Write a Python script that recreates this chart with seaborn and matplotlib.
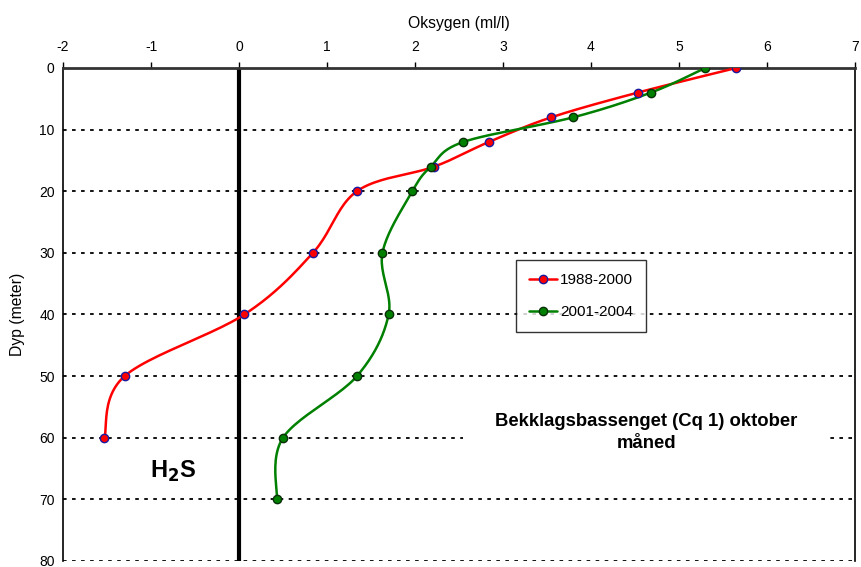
import numpy as np
import seaborn as sns
import matplotlib.pyplot as plt
from matplotlib.lines import Line2D
from matplotlib.patches import Rectangle

# Oxygen profiles, Bekklagsbassenget (Cq 1), October
depth_a = [0, 4, 8, 12, 16, 20, 30, 40, 50, 60]
oxy_a = [5.65, 4.53, 3.55, 2.84, 2.22, 1.34, 0.84, 0.06, -1.30, -1.53]

depth_b = [0, 4, 8, 12, 16, 20, 30, 40, 50, 60, 70]
oxy_b = [5.30, 4.68, 3.80, 2.55, 2.18, 1.97, 1.63, 1.70, 1.34, 0.50, 0.43]

x_ticks = [-2, -1, 0, 1, 2, 3, 4, 5, 6, 7]
y_ticks = [0, 10, 20, 30, 40, 50, 60, 70, 80]


def smooth(xs, ys, n=24):
    # Catmull-Rom path through the points, like a smoothed Excel line
    p = np.column_stack([xs, ys]).astype(float)
    p = np.vstack([p[0], p, p[-1]])
    out = []
    t = np.linspace(0, 1, n, endpoint=False)[:, None]
    for i in range(1, len(p) - 2):
        p0, p1, p2, p3 = p[i - 1], p[i], p[i + 1], p[i + 2]
        seg = 0.5 * ((2 * p1) + (-p0 + p2) * t
                     + (2 * p0 - 5 * p1 + 4 * p2 - p3) * t ** 2
                     + (-p0 + 3 * p1 - 3 * p2 + p3) * t ** 3)
        out.append(seg)
    out.append(p[-2][None, :])
    out = np.vstack(out)
    return out[:, 0], out[:, 1]


sns.set_theme(style="white")
plt.rcParams['font.family'] = ['Liberation Sans', 'DejaVu Sans']
plt.rcParams['axes.unicode_minus'] = False
plt.rcParams['text.color'] = 'black'
plt.rcParams['axes.labelcolor'] = 'black'

fig = plt.figure(figsize=(8.61, 5.67), dpi=100)
ax = fig.add_axes([0.0732, 0.0106, 0.9198, 0.8695])

# horizontal dotted grid
for yv in y_ticks[1:]:
    ax.axhline(yv, color='black', linestyle=(0, (2, 3)), linewidth=1.3, zorder=1)

# H2S boundary at zero
ax.axvline(0, color='black', linewidth=3, zorder=2)

sx, sy = smooth(oxy_a, depth_a)
sns.lineplot(x=sx, y=sy, sort=False, estimator=None, color='#ff0000',
             linewidth=1.8, ax=ax, zorder=3)
sns.scatterplot(x=oxy_a, y=depth_a, color='#ff0000', edgecolor='#1a1aa0',
                s=36, linewidth=1.0, ax=ax, zorder=4)

sx, sy = smooth(oxy_b, depth_b)
sns.lineplot(x=sx, y=sy, sort=False, estimator=None, color='#008000',
             linewidth=1.8, ax=ax, zorder=3)
sns.scatterplot(x=oxy_b, y=depth_b, color='#008000', edgecolor='#0a300a',
                s=36, linewidth=1.0, ax=ax, zorder=4)

ax.set_xlim(-2, 7)
ax.set_ylim(80, 0)
ax.set_xticks(x_ticks)
ax.set_yticks(y_ticks)
ax.xaxis.tick_top()
ax.xaxis.set_label_position('top')
ax.tick_params(axis='both', direction='out', length=4, width=1, color='black',
               labelsize=10, pad=2, labelcolor='black')
ax.tick_params(axis='x', pad=6)
ax.set_xlabel('Oksygen (ml/l)', fontsize=11.3, labelpad=9)
ax.set_ylabel('Dyp (meter)', fontsize=11.3, labelpad=10)

for side in ['top', 'left', 'right']:
    ax.spines[side].set_visible(True)
    ax.spines[side].set_color('black')
    ax.spines[side].set_linewidth(1.2)
ax.spines['top'].set_linewidth(2.0)
ax.spines['top'].set_color('#333333')
ax.spines['bottom'].set_visible(False)

handles = [
    Line2D([], [], color='#ff0000', linewidth=1.8, marker='o', markersize=6,
           markerfacecolor='#ff0000', markeredgecolor='#1a1aa0'),
    Line2D([], [], color='#008000', linewidth=1.8, marker='o', markersize=6,
           markerfacecolor='#008000', markeredgecolor='#0a300a'),
]
leg = ax.legend(handles, ['1988-2000', '2001-2004'], loc='upper left',
                bbox_to_anchor=(0.572, 0.6105), frameon=True, fancybox=False,
                fontsize=11, handlelength=1.8, labelspacing=1.2,
                borderpad=0.85, handletextpad=0.25, borderaxespad=0)
leg.get_frame().set_edgecolor('black')
leg.get_frame().set_linewidth(1.0)

ax.text(-0.75, 65.5, r'H$_\mathbf{2}$S', fontsize=17, fontweight='bold',
        ha='center', va='center', zorder=5)
# white backing behind the station note (it hides the gridline at 60 m)
ax.add_patch(Rectangle((2.55, 53.5), 4.17, 11.0, facecolor='white',
                       edgecolor='none', zorder=4.5))
ax.text(4.63, 59.2, 'Bekklagsbassenget (Cq 1) oktober\nmåned', fontsize=13.3,
        fontweight='bold', ha='center', va='center', linespacing=1.4, zorder=5)

fig.savefig('out.png', dpi=100)
